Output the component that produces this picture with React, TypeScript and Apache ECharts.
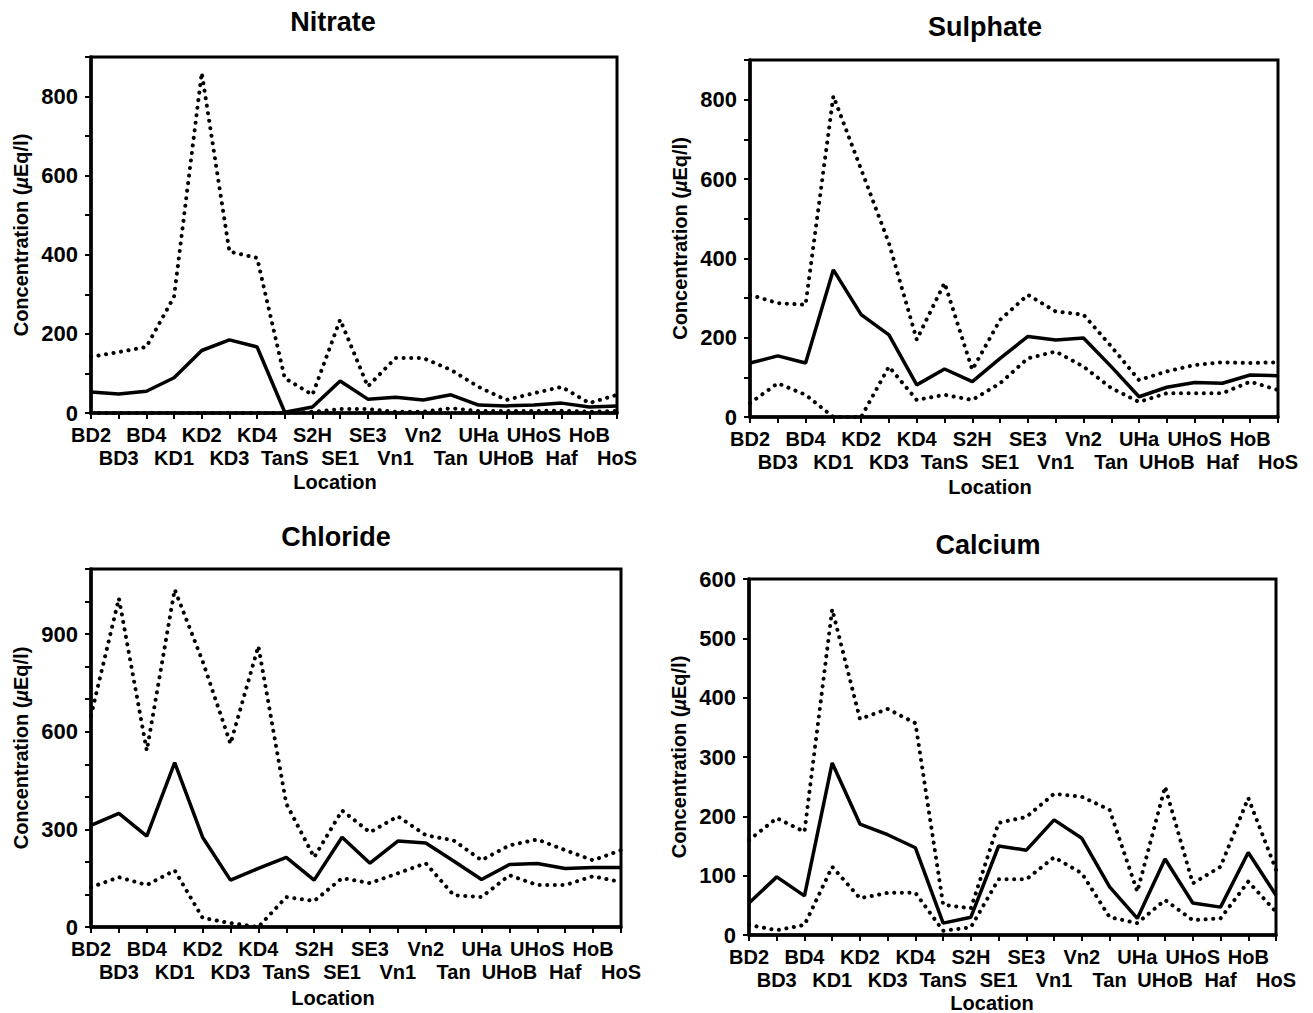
import React, { useEffect, useRef } from "react";
import * as echarts from "echarts";

const categories = ["BD2","BD3","BD4","KD1","KD2","KD3","KD4","TanS","S2H","SE1","SE3","Vn1","Vn2","Tan","UHa","UHoB","UHoS","Haf","HoB","HoS"];

const nitrateMean  = [53,48,55,89,158,185,167,2,15,81,35,40,33,46,20,18,20,25,15,18];
const nitrateUpper = [142,154,167,294,860,408,392,88,46,236,67,139,139,109,66,33,50,66,25,46];
const nitrateLower = [0,0,0,0,0,0,0,0,3,10,10,3,3,12,5,5,5,6,3,5];

const sulphateMean  = [136,154,136,371,258,207,81,121,89,148,203,194,199,127,51,75,87,85,106,104];
const sulphateUpper = [308,287,283,809,624,438,195,338,119,245,308,266,258,178,93,115,131,138,136,138];
const sulphateLower = [35,85,56,0,0,127,43,56,43,85,148,165,127,73,38,60,60,60,89,68];

const chlorideMean  = [312,349,279,505,276,144,180,214,144,276,196,264,258,203,146,192,195,180,183,183];
const chlorideUpper = [650,1010,542,1037,817,563,863,379,214,358,291,340,282,266,205,251,269,236,205,236];
const chlorideLower = [122,153,129,174,28,12,0,92,80,150,135,165,196,98,92,159,129,129,156,138];

const calciumMean  = [54,98,66,290,187,169,147,20,30,150,143,194,163,81,28,128,54,47,139,67];
const calciumUpper = [160,197,174,549,364,381,357,51,45,189,199,238,233,211,73,250,87,115,231,110];
const calciumLower = [17,8,17,115,62,71,71,7,13,94,94,131,104,30,20,59,25,28,90,39];

const titles = ["Nitrate", "Sulphate", "Chloride", "Calcium"];
const yMax = [900, 900, 1100, 600];
const yLabelStep = [200, 200, 300, 100];

const FONT = "'Liberation Sans', Arial, Helvetica, sans-serif";

export default function App() {
  const ref = useRef<HTMLDivElement>(null);
  useEffect(() => {
    document.body.style.margin = "0";
    const chart = echarts.init(ref.current!, null, { renderer: "svg" });

    const grids = [
      { left: 91, top: 57, width: 526, height: 356 },
      { left: 750, top: 60, width: 528, height: 357 },
      { left: 91, top: 569, width: 530, height: 358 },
      { left: 749, top: 579, width: 527, height: 356 },
    ];
    const titlePos = [[333, 22], [985, 27], [336, 537], [988, 545]];
    const locPos = [[335, 482], [990, 487], [333, 998], [992, 1003]];

    const seriesData = [
      [nitrateMean, nitrateUpper, nitrateLower],
      [sulphateMean, sulphateUpper, sulphateLower],
      [chlorideMean, chlorideUpper, chlorideLower],
      [calciumMean, calciumUpper, calciumLower],
    ];

    const xAxis = grids.map((_, i) => ({
      type: "category",
      gridIndex: i,
      data: categories,
      boundaryGap: false,
      axisLine: { lineStyle: { color: "#000", width: 3.5 } },
      axisTick: { show: true, interval: 0, length: 6, lineStyle: { color: "#000", width: 2 } },
      axisLabel: {
        interval: 0,
        color: "#000",
        fontFamily: FONT,
        fontWeight: "bold",
        fontSize: 20,
        lineHeight: 23,
        margin: 10,
        formatter: (v: string, idx: number) => (idx % 2 === 0 ? v : "\n" + v),
      },
      splitLine: { show: false },
    }));

    const yAxis = grids.map((_, i) => ({
      type: "value",
      gridIndex: i,
      min: 0,
      max: yMax[i],
      interval: 100,
      name: "Concentration ({i|µ}Eq/l)",
      nameLocation: "middle",
      nameGap: 60,
      nameTextStyle: {
        color: "#000",
        fontFamily: FONT,
        fontWeight: "bold",
        fontSize: 20,
        rich: { i: { fontStyle: "italic", fontWeight: "bold", fontSize: 20, fontFamily: FONT, color: "#000" } },
      },
      axisLine: { show: true, lineStyle: { color: "#000", width: 3.5 } },
      axisTick: { show: true, length: 6, lineStyle: { color: "#000", width: 2 } },
      axisLabel: {
        color: "#000",
        fontFamily: FONT,
        fontWeight: "bold",
        fontSize: 22,
        lineHeight: 17,
        margin: 13,
        formatter: (v: number) => (v % yLabelStep[i] === 0 ? String(v) : ""),
      },
      splitLine: { show: false },
    }));

    const series: any[] = [];
    seriesData.forEach((set, i) => {
      set.forEach((d, k) => {
        series.push({
          type: "line",
          xAxisIndex: i,
          yAxisIndex: i,
          data: d,
          showSymbol: false,
          symbol: "none",
          lineStyle: k === 0
            ? { color: "#000", width: 3.5, type: "solid" }
            : { color: "#000", width: 4, type: [0.1, 7.5], cap: "round" },
          z: k === 0 ? 3 : 2,
        });
      });
    });

    const graphic: any[] = [];
    titles.forEach((t, i) => {
      graphic.push({
        type: "text",
        x: titlePos[i][0],
        y: titlePos[i][1],
        style: { text: t, fill: "#000", font: `bold 27px ${FONT}`, align: "center", verticalAlign: "middle" },
      });
      graphic.push({
        type: "text",
        x: locPos[i][0],
        y: locPos[i][1],
        style: { text: "Location", fill: "#000", font: `bold 20px ${FONT}`, align: "center", verticalAlign: "middle" },
      });
    });

    chart.setOption({
      animation: false,
      backgroundColor: "#fff",
      grid: grids.map((g) => ({ ...g, show: true, borderColor: "#000", borderWidth: 3, backgroundColor: "transparent" })),
      xAxis,
      yAxis,
      series,
      graphic,
    });
    return () => chart.dispose();
  }, []);
  return <div ref={ref} style={{ width: 1313, height: 1013 }} />;
}
